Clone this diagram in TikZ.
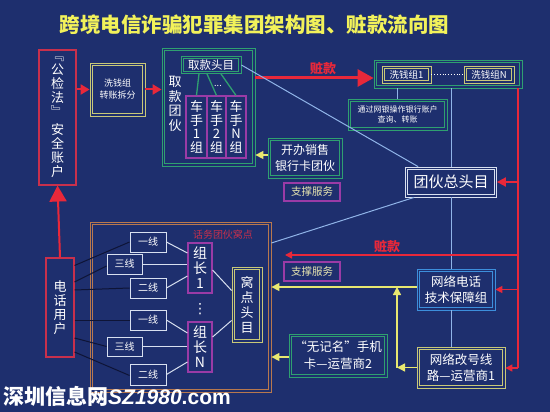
\documentclass[tikz,border=0pt]{standalone}
\usepackage{fontspec}
\setmainfont{Noto Sans CJK SC}
\newfontfamily\wmfont{Liberation Sans}
\newfontfamily\djv{DejaVu Sans}
\usetikzlibrary{arrows.meta}
\definecolor{bg}{HTML}{1E2F6E}
\definecolor{rarr}{HTML}{E8283A}
\definecolor{rbox}{HTML}{C8304C}
\definecolor{grn}{HTML}{2FA070}
\definecolor{purp}{HTML}{9A3BA6}
\definecolor{olv}{HTML}{C8C878}
\definecolor{yarr}{HTML}{E8E870}
\definecolor{lblue}{HTML}{90B4E8}
\definecolor{bbox}{HTML}{3D8FDC}
\definecolor{brn}{HTML}{B8784E}
\definecolor{lw}{HTML}{D8E0F0}
\definecolor{pyel}{HTML}{E8E6B0}
\definecolor{dline}{HTML}{0E1436}
\definecolor{ttl}{HTML}{F2F25A}
\tikzset{
  dbx/.style={draw=#1, line width=0.8pt, inner sep=0pt, align=center, text=white,
    path picture={\draw[#1, line width=0.8pt] ([xshift=2.3pt,yshift=-2.3pt]path picture bounding box.north west) rectangle ([xshift=-2.3pt,yshift=2.3pt]path picture bounding box.south east);}},
  sbx/.style={draw=#1, line width=1.1pt, inner sep=0pt, align=center, text=white},
  lbx/.style={draw=lw, line width=0.9pt, inner sep=0pt, minimum width=36pt, minimum height=20pt, text=white, font=\fontsize{10}{10}\selectfont},
  vtxt/.style={align=center, text=white, inner sep=0pt},
  redarr/.style={draw=rarr, line width=2pt, -{Triangle[width=10pt,length=9pt]}},
  bigred/.style={draw=rarr, line width=3pt, -{Triangle[width=17pt,length=16pt]}},
  redln/.style={draw=rarr, line width=1.8pt},
  redsm/.style={draw=rarr, line width=1.5pt, -{Triangle[width=7pt,length=7pt]}},
  yarrow/.style={draw=yarr, line width=1.4pt, -{Triangle[width=8pt,length=8pt]}},
  lbl/.style={draw=lblue, line width=1pt},
  gln/.style={draw=grn, line width=1.3pt},
  wln/.style={draw=lw, line width=1pt},
  dln/.style={draw=dline, line width=1pt},
  zklabel/.style={text=rarr, font=\bfseries\fontsize{13}{13}\selectfont, inner sep=0pt}
}
\begin{document}
\begin{tikzpicture}[x=1pt,y=-1pt]
\fill[bg] (0,0) rectangle (550,412);
\useasboundingbox (0,0) rectangle (550,412);

% title
\node[text=ttl, font=\bfseries\fontsize{20.5}{21}\selectfont, inner sep=0pt] (title) at (254.5,25) {跨境电信诈骗犯罪集团架构图、赃款流向图};

% 公检法
\node[sbx=rbox, minimum width=37pt, minimum height=135pt, font=\fontsize{13}{14}\selectfont] (gjf) at (57.5,117.5) {﹃\\公\\检\\法\\﹄\\[4pt]安\\全\\账\\户};

% 洗钱组 转账拆分
\node[dbx=olv, minimum width=55pt, minimum height=53pt, font=\fontsize{9}{12}\selectfont] (xqz) at (117.5,89.5) {洗钱组\\转账拆分};

% 取款团伙
\node[dbx=grn, minimum width=93pt, minimum height=118pt] (qktt) at (208.5,107) {};
\node[vtxt, font=\fontsize{13}{14.5}\selectfont] (qkl) at (175,104) {取\\款\\团\\伙};
\node[dbx=grn, minimum width=60pt, minimum height=17pt, font=\fontsize{11.5}{12}\selectfont] (qktm) at (211,65) {取款头目};
\node[sbx=purp, minimum width=21pt, minimum height=62pt, font=\fontsize{13}{13.5}\selectfont] (cs1) at (196.5,127) {车\\手\\1\\组};
\node[sbx=purp, minimum width=19pt, minimum height=62pt, font=\fontsize{13}{13.5}\selectfont] (cs2) at (216.5,127) {车\\手\\2\\组};
\node[sbx=purp, minimum width=20pt, minimum height=62pt, font=\fontsize{13}{13.5}\selectfont] (csN) at (236,127) {车\\手\\N\\组};
\draw[gln] ([xshift=-12pt]qktm.south) -- (cs1.north);
\draw[gln] ([xshift=-4pt]qktm.south) -- (cs2.north);
\draw[gln] ([xshift=10pt]qktm.south) -- (csN.north);
\node[text=white, font=\fontsize{9}{9}\selectfont, inner sep=0pt] (dots1) at (218,86) {...};

% red arrows top-left
\draw[redarr] (gjf.east |- xqz.west) -- (xqz.west);
\draw[redarr] (xqz.east) -- (xqz.east -| qktt.west);

% 洗钱组 outer
\node[dbx=grn, minimum width=148pt, minimum height=28pt] (xqzo) at (448,74) {};
\node[dbx=olv, minimum width=49pt, minimum height=17pt, font=\fontsize{9.5}{10}\selectfont] (xq1) at (406.5,74.5) {洗钱组1};
\node[dbx=olv, minimum width=50pt, minimum height=17pt, font=\fontsize{9.5}{10}\selectfont] (xqN) at (489,74.5) {洗钱组N};
\draw[white, dotted, line width=0.8pt] (xq1.east) -- (xqN.west);

% 赃款 top
\draw[bigred] ([yshift=29pt]qktt.east) coordinate (zks) -- (zks -| xqzo.west);
\node[zklabel] (zk1) at (323,69) {赃款};

% 网银
\node[dbx=grn, minimum width=99pt, minimum height=31pt, font=\fontsize{8}{10}\selectfont] (wy) at (397.5,114.5) {通过网银操作银行账户\\查询、转账};
\draw[lbl] (wy.north |- xqzo.south) -- (wy.north);

% 团伙总头目
\node[dbx=lw, minimum width=91pt, minimum height=30pt, font=\fontsize{15}{16}\selectfont] (zttm) at (451,182) {团伙总头目};

% 开办销售
\node[dbx=grn, minimum width=74pt, minimum height=40pt, font=\fontsize{12}{16.5}\selectfont] (kb) at (305,158) {开办销售\\银行卡团伙};
\draw[yarrow] ([yshift=3pt]kb.west) coordinate (kbw) -- (kbw -| qktt.east);

% 支撑服务
\node[sbx=purp, minimum width=56pt, minimum height=18pt, text=pyel, font=\fontsize{10.5}{11}\selectfont] (zc1) at (312,192) {支撑服务};
\node[sbx=purp, minimum width=56pt, minimum height=19pt, text=pyel, font=\fontsize{10.5}{11}\selectfont] (zc2) at (312,271.5) {支撑服务};

% 网络电话 etc
\node[dbx=bbox, minimum width=78pt, minimum height=41pt, font=\fontsize{12.5}{16}\selectfont] (wldh) at (456,289.5) {网络电话\\技术保障组};
\node[dbx=olv, minimum width=88pt, minimum height=41pt, font=\fontsize{12.5}{16}\selectfont] (wlgh) at (461,367.5) {网络改号线\\路—运营商1};
\node[dbx=grn, minimum width=98pt, minimum height=43pt, font=\fontsize{12.5}{17}\selectfont] (wjm) at (338,355.5) {“无记名”手机\\卡—运营商2};

% 话务团伙窝点
\node[dbx=brn, minimum width=181pt, minimum height=170pt] (hw) at (180.5,307) {};
\node[text=rbox, font=\fontsize{10}{10}\selectfont, inner sep=0pt] (hwl) at (223,235) {话务团伙窝点};

% 电话用户
\node[sbx=rbox, minimum width=28pt, minimum height=99pt, font=\fontsize{13}{14}\selectfont] (dh) at (60,307.5) {电\\话\\用\\户};
\draw[bigred, line width=2pt] (dh.north) -- (gjf.south);

% line boxes
\node[lbx] (y1a) at (148,242) {一线};
\node[lbx, minimum width=35pt] (s3a) at (124.5,264) {三线};
\node[lbx] (e2a) at (148,288) {二线};
\node[lbx] (y1b) at (148,320) {一线};
\node[lbx, minimum width=35pt, minimum height=19pt] (s3b) at (124.5,346.5) {三线};
\node[lbx, minimum height=21pt] (e2b) at (148,374.5) {二线};

% 组长
\node[sbx=purp, minimum width=24pt, minimum height=50pt, font=\fontsize{14}{15}\selectfont] (zz1) at (200,268) {组\\长\\1};
\node[sbx=purp, minimum width=24pt, minimum height=50pt, font=\fontsize{14}{15}\selectfont] (zzN) at (200,347) {组\\长\\N};
\node[text=white, font=\djv\fontsize{14}{14}\selectfont, inner sep=0pt] (vdots) at (200,309) {⋮};
\node[dbx=olv, minimum width=30pt, minimum height=75pt, font=\fontsize{13}{15}\selectfont] (wd) at (247,304.5) {窝\\点\\头\\目};

% dark lines from 电话用户
\draw[dln] ([yshift=42pt]dh.east) -- (y1a.west);
\draw[dln] ([yshift=25.5pt]dh.east) -- ([yshift=-2pt]s3a.west);
\draw[dln] ([yshift=17.5pt]dh.east) -- (e2a.west);
\draw[dln] ([yshift=-12.5pt]dh.east) -- (y1b.west);
\draw[dln] ([yshift=-30.5pt]dh.east) -- (s3b.west);
\draw[dln] ([yshift=-44.5pt]dh.east) -- ([yshift=-1pt]e2b.west);

% light lines to 组长
\draw[wln] (y1a.east) -- ([yshift=15pt]zz1.west);
\draw[wln] (s3a.east) -- (s3a.east -| zz1.west);
\draw[wln] (e2a.east) -- ([yshift=-8pt]zz1.west);
\draw[wln] (y1b.east) -- ([yshift=14pt]zzN.west);
\draw[wln] (s3b.east) -- (s3b.east -| zzN.west);
\draw[wln] (e2b.east) -- ([yshift=-15pt]zzN.west);
\draw[wln] ([yshift=-2pt]zz1.east) -- ([yshift=14pt]wd.west);
\draw[wln] ([yshift=10pt]zzN.east) -- ([yshift=-16pt]wd.west);

% light blue lines
\draw[lbl] (qktm.east) -- ([xshift=13pt]zttm.north west);
\draw[lbl] ([xshift=9pt]zttm.south west) -- ([yshift=64pt]hw.east);
\draw[lbl] (zttm.north |- xqzo.south) -- (zttm.north);
\draw[lbl] (zttm.south) -- (zttm.south |- wldh.north);
\draw[lbl] (zttm.south |- wldh.south) -- (zttm.south |- wlgh.north);

% red right side
\coordinate (rt) at (518,88);
\coordinate (rb) at (518,368);
\draw[redln] (rt) -- (rb);
\draw[redsm, line width=1.8pt, -{Triangle[width=9pt,length=9pt]}] (rt |- zttm.east) -- (zttm.east);
\draw[redsm] (rt |- wldh.east) -- (wldh.east);
\draw[redsm] (rb) -- (rb -| wlgh.east);
\coordinate (zk2s) at (518,255);
\coordinate (zk2e) at (285,255);
\draw[redsm] (zk2s) -- (zk2e);
\node[zklabel] (zk2) at (387,247) {赃款};

% yellow arrows
\draw[yarrow] ([yshift=2.5pt]wldh.west) coordinate (yh) -- (yh -| hw.east);
\coordinate (yj) at (397,367.5);
\draw[yarrow] (wlgh.west) -- (yj);
\draw[yarrow] (yj) -- (yj |- yh);
\draw[yarrow] ([yshift=-1.5pt]wjm.west) coordinate (wjw) -- (wjw -| hw.east);

% watermark
\node[anchor=base west, text=white, inner sep=0pt, font=\fontsize{21}{21}\selectfont] (wm) at (3,404) {\bfseries 深圳信息网{\wmfont\bfseries\itshape SZ1980}{\wmfont\bfseries .com}};
\end{tikzpicture}
\end{document}
